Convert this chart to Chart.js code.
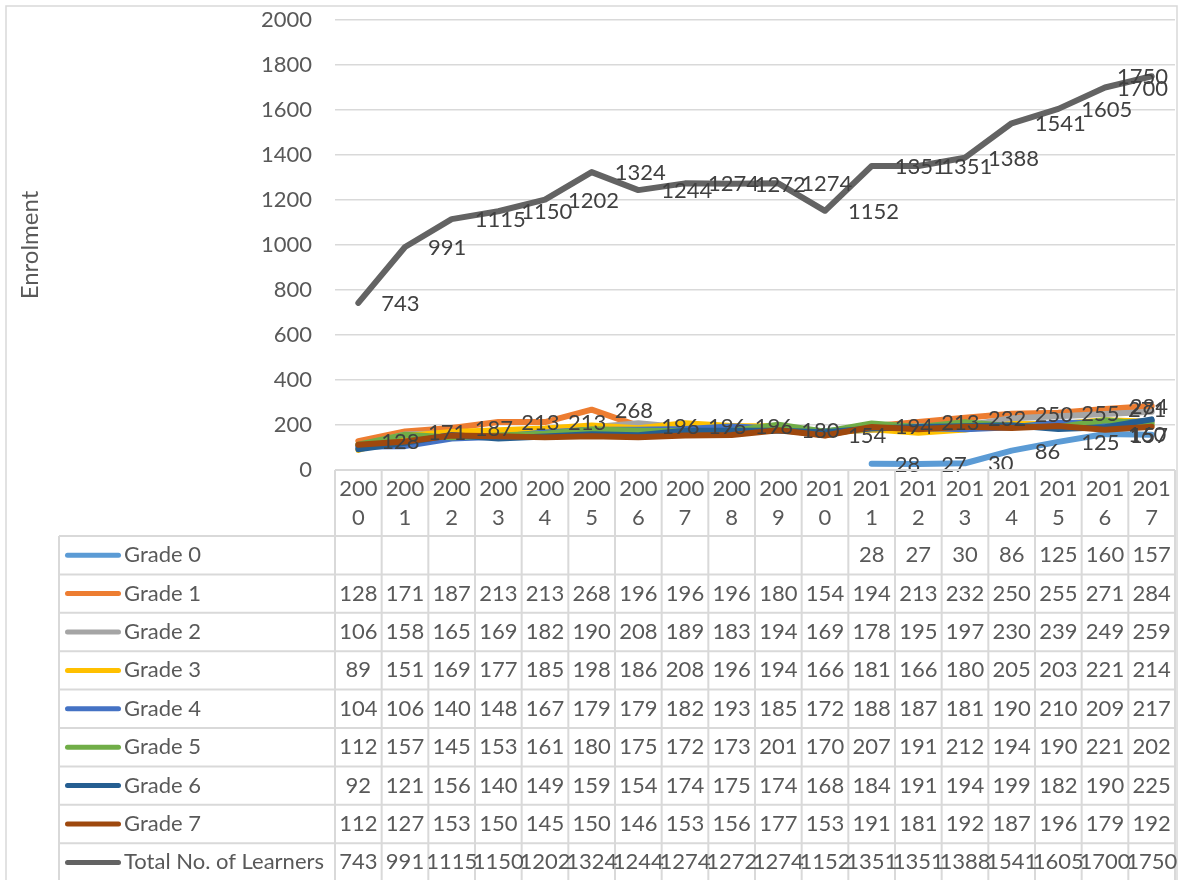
<!DOCTYPE html>
<html>
<head>
<meta charset="utf-8">
<title>Enrolment 2000–2017</title>
<script src="https://cdn.jsdelivr.net/npm/chart.js@4.4.1/dist/chart.umd.min.js"></script>
<style>
  html, body { margin: 0; padding: 0; background: #ffffff; }
  canvas { display: block; }
</style>
</head>
<body>
<canvas id="chart" width="1186" height="880"></canvas>
<script>
// Years (categories)
const years = ['2000','2001','2002','2003','2004','2005','2006','2007','2008',
               '2009','2010','2011','2012','2013','2014','2015','2016','2017'];

// Enrolment per grade
const grade0 = [null,null,null,null,null,null,null,null,null,null,null,28,27,30,86,125,160,157];
const grade1 = [128,171,187,213,213,268,196,196,196,180,154,194,213,232,250,255,271,284];
const grade2 = [106,158,165,169,182,190,208,189,183,194,169,178,195,197,230,239,249,259];
const grade3 = [89,151,169,177,185,198,186,208,196,194,166,181,166,180,205,203,221,214];
const grade4 = [104,106,140,148,167,179,179,182,193,185,172,188,187,181,190,210,209,217];
const grade5 = [112,157,145,153,161,180,175,172,173,201,170,207,191,212,194,190,221,202];
const grade6 = [92,121,156,140,149,159,154,174,175,174,168,184,191,194,199,182,190,225];
const grade7 = [112,127,153,150,145,150,146,153,156,177,153,191,181,192,187,196,179,192];
const totalLearners = [743,991,1115,1150,1202,1324,1244,1274,1272,1274,1152,1351,1351,1388,1541,1605,1700,1750];

// Y axis range / ticks
const yMin = 0, yMax = 2000, yStep = 200;

const seriesNames  = ['Grade 0','Grade 1','Grade 2','Grade 3','Grade 4','Grade 5','Grade 6','Grade 7','Total No. of Learners'];
const seriesValues = [grade0, grade1, grade2, grade3, grade4, grade5, grade6, grade7, totalLearners];
const seriesColors = ['#5B9BD5','#ED7D31','#A5A5A5','#FFC000','#4472C4','#70AD47','#255E91','#9E480E','#636363'];
const labelledSeries = ['Grade 0','Grade 1','Total No. of Learners'];

const FONT = 'Lato, "Open Sans", sans-serif';
const FONT_SIZE = 22;
const TEXT = '#595959';
const LABEL_TEXT = '#404040';
const GRID = '#d9d9d9';

// Value labels to the right of each point
const valueLabels = {
  id: 'valueLabels',
  afterDatasetsDraw(chart) {
    const ctx = chart.ctx;
    const area = chart.chartArea;
    ctx.save();
    ctx.font = FONT_SIZE + 'px ' + FONT;
    ctx.fillStyle = LABEL_TEXT;
    ctx.textAlign = 'left';
    ctx.textBaseline = 'middle';
    chart.data.datasets.forEach((ds, di) => {
      if (!labelledSeries.includes(ds.label)) return;
      const meta = chart.getDatasetMeta(di);
      meta.data.forEach((pt, i) => {
        const v = ds.data[i];
        if (v === null || v === undefined) return;
        const txt = String(v);
        const w = ctx.measureText(txt).width;
        let x = pt.x + 23;
        if (x + w > area.right - 7) x = area.right - 7 - w;
        ctx.fillText(txt, x, pt.y + 1);
      });
    });
    ctx.restore();
  }
};

// Data table under the plot, with legend keys
const dataTable = {
  id: 'dataTable',
  afterDraw(chart) {
    const ctx = chart.ctx;
    const area = chart.chartArea;
    const xs = chart.scales.x;
    const n = years.length;
    const colW = xs.getPixelForValue(1) - xs.getPixelForValue(0);
    const tableLeft = 59;
    const headTop = area.bottom;
    const headH = 66;
    const rowH = 38.4;
    const bodyTop = headTop + headH;
    const bottom = chart.height;

    ctx.save();
    // outer frame
    ctx.strokeStyle = GRID;
    ctx.lineWidth = 1.5;
    ctx.strokeRect(6, 6, 1171, bottom + 10);

    // grid
    ctx.lineWidth = 2;
    ctx.beginPath();
    ctx.moveTo(area.left, headTop); ctx.lineTo(area.right, headTop);
    for (let r = 0; r <= seriesNames.length; r++) {
      const y = bodyTop + r * rowH;
      ctx.moveTo(tableLeft, y); ctx.lineTo(area.right, y);
    }
    ctx.moveTo(tableLeft, bodyTop); ctx.lineTo(tableLeft, bottom);
    for (let c = 0; c <= n; c++) {
      const x = area.left + c * colW;
      ctx.moveTo(x, headTop); ctx.lineTo(x, bottom);
    }
    ctx.stroke();

    ctx.font = FONT_SIZE + 'px ' + FONT;
    ctx.fillStyle = TEXT;
    ctx.textBaseline = 'middle';
    ctx.textAlign = 'center';

    // year headers (wrapped in narrow columns)
    years.forEach((yr, i) => {
      const cx = xs.getPixelForValue(i);
      ctx.fillText(yr.slice(0, 3), cx, headTop + 19);
      ctx.fillText(yr.slice(3), cx, headTop + 48);
    });

    // rows
    seriesNames.forEach((name, r) => {
      const cy = bodyTop + r * rowH + rowH / 2;
      // legend key
      ctx.strokeStyle = seriesColors[r];
      ctx.lineWidth = 5;
      ctx.lineCap = 'round';
      ctx.beginPath();
      ctx.moveTo(67.5, cy); ctx.lineTo(118.5, cy);
      ctx.stroke();
      ctx.textAlign = 'left';
      ctx.fillStyle = TEXT;
      ctx.fillText(name, 124, cy);
      ctx.textAlign = 'center';
      seriesValues[r].forEach((v, i) => {
        if (v === null) return;
        ctx.fillText(String(v), xs.getPixelForValue(i), cy);
      });
    });
    ctx.restore();
  }
};

const datasets = seriesNames.map((name, i) => ({
  label: name,
  data: seriesValues[i],
  borderColor: seriesColors[i],
  backgroundColor: seriesColors[i],
  borderWidth: 6,
  pointRadius: 0,
  tension: 0,
  spanGaps: false,
  borderCapStyle: 'round',
  borderJoinStyle: 'round',
  order: seriesNames.length - 1 - i
}));

new Chart(document.getElementById('chart'), {
  type: 'line',
  data: { labels: years, datasets },
  options: {
    responsive: false,
    animation: false,
    events: [],
    layout: { padding: { top: 20, right: 11, bottom: 410, left: 0 } },
    plugins: {
      legend: { display: false },
      tooltip: { enabled: false }
    },
    scales: {
      x: { display: false, offset: true },
      y: {
        min: yMin, max: yMax,
        ticks: {
          stepSize: yStep, color: TEXT, font: { family: FONT, size: FONT_SIZE }, padding: 23,
          callback: (v) => String(v)
        },
        grid: { color: GRID, lineWidth: 1.5, drawTicks: false },
        border: { display: false },
        title: { display: true, text: 'Enrolment', color: TEXT, font: { family: FONT, size: 24 }, padding: { top: 16, bottom: 0 } },
        afterFit(scale) { scale.width = 335; scale.paddingTop = 0; scale.paddingBottom = 0; }
      }
    }
  },
  plugins: [valueLabels, dataTable]
});
</script>
</body>
</html>
